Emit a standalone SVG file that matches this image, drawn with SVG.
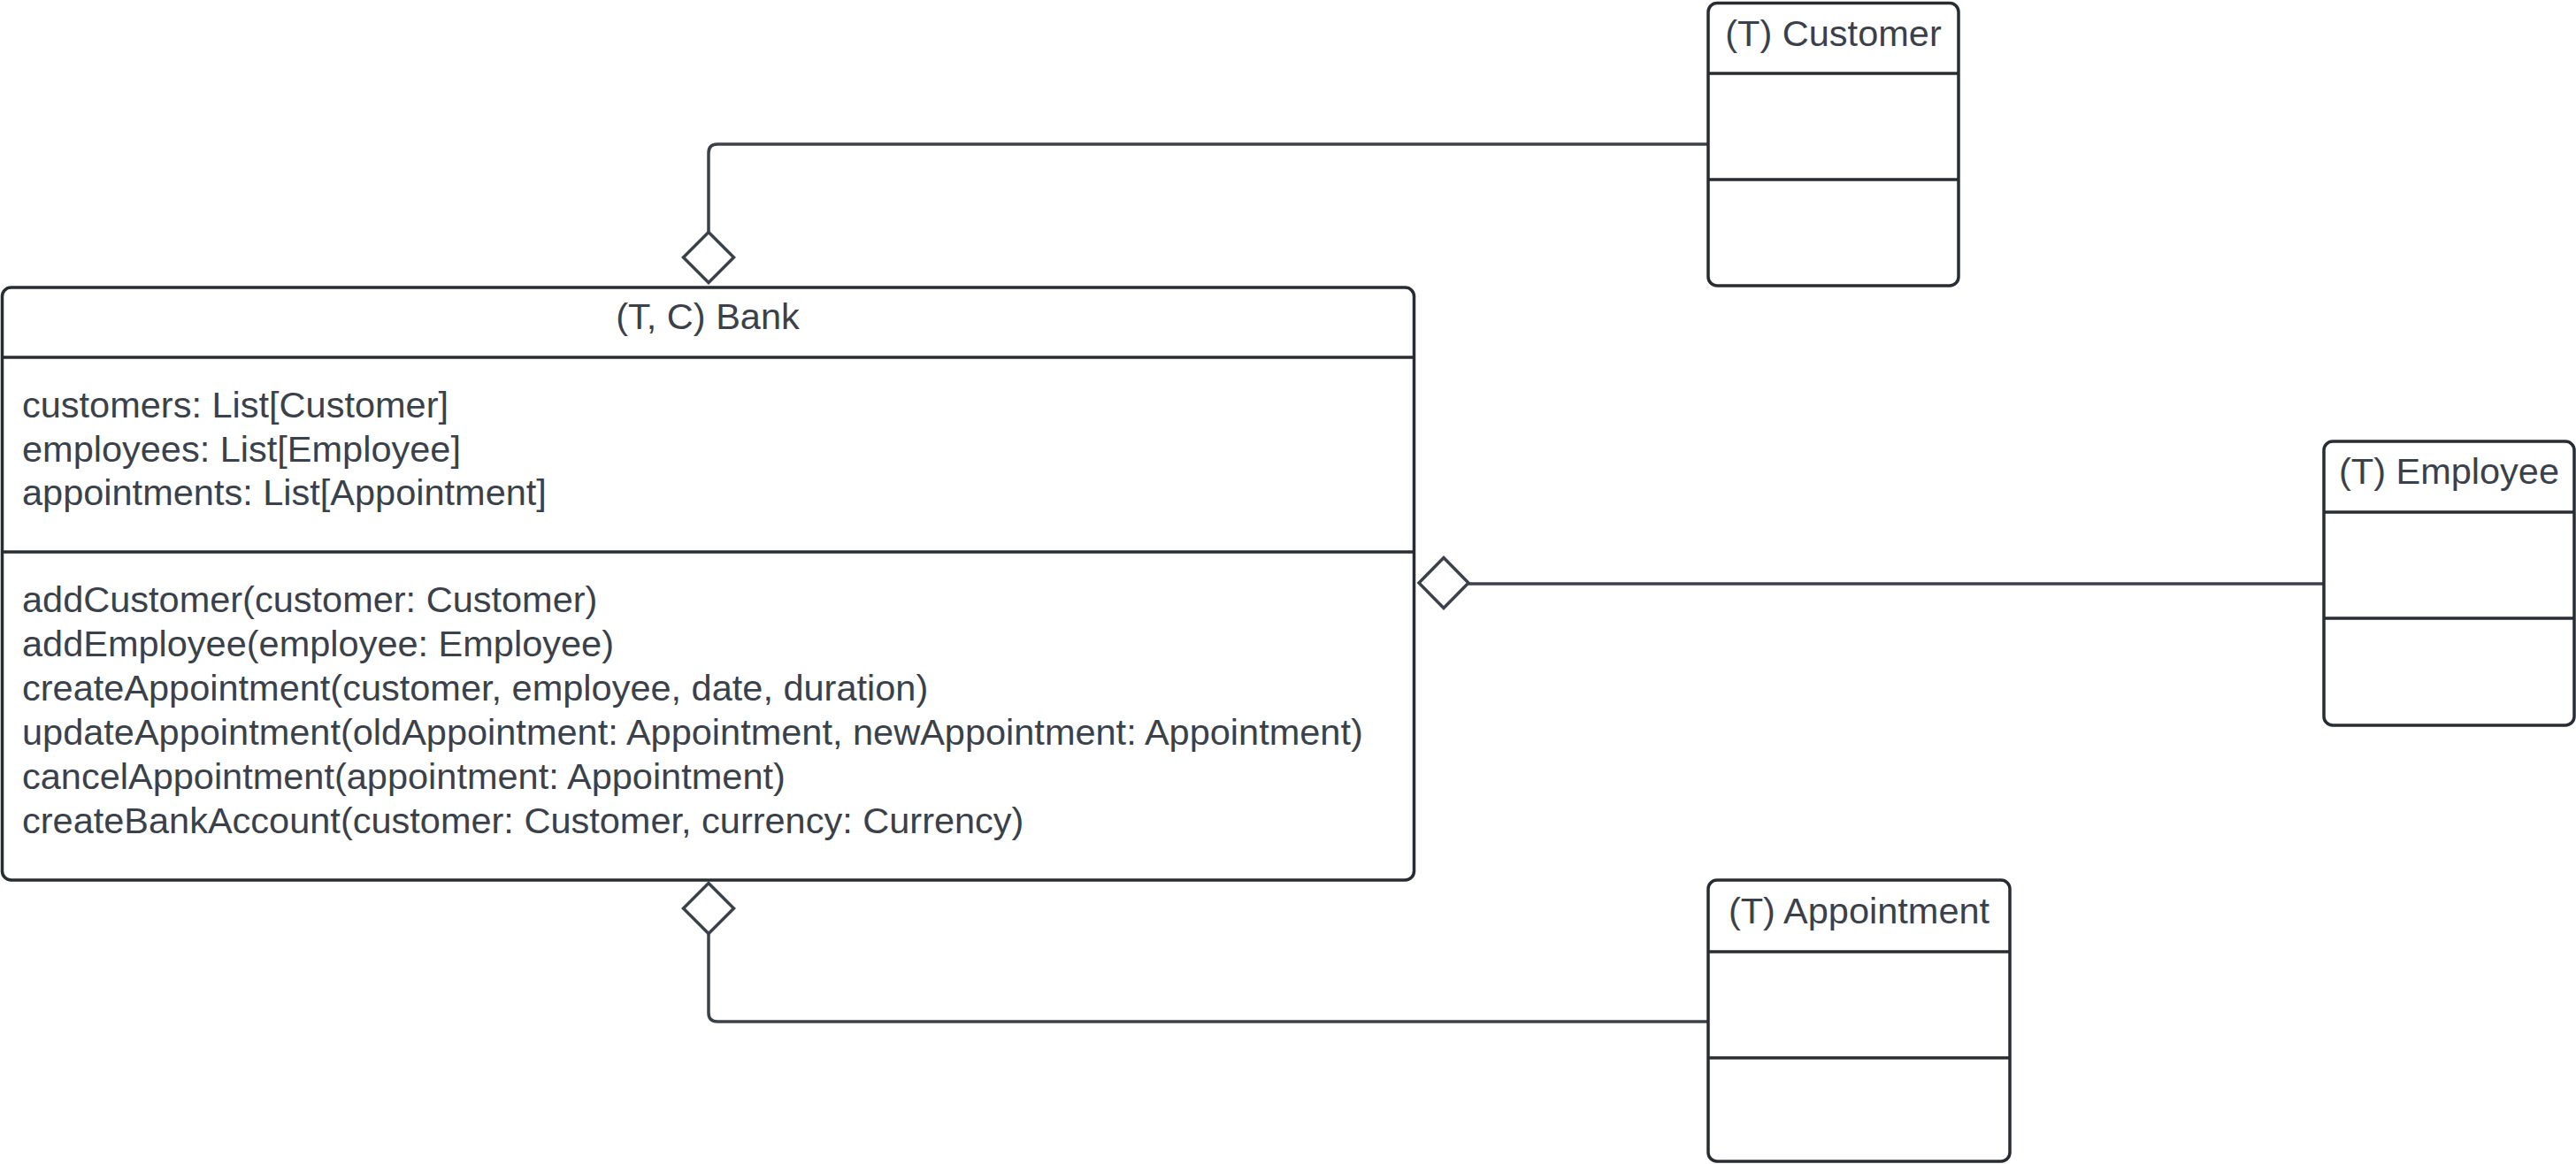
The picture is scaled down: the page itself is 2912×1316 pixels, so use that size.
<svg xmlns="http://www.w3.org/2000/svg" width="2912" height="1316" viewBox="0 0 2912 1316">
<style>
.box{fill:#ffffff;stroke:#282c33;stroke-width:3.5}
.div{stroke:#282c33;stroke-width:3.5;fill:none}
.conn{stroke:#3a414a;stroke-width:3.5;fill:none}
.dia{fill:#ffffff;stroke:#3a414a;stroke-width:3.5}
text{font-family:"Liberation Sans",Arial,sans-serif;font-size:41.5px;fill:#3a414a}
.c{text-anchor:middle}
</style>
<rect width="2912" height="1316" fill="#ffffff"/>
<g id="connectors">
<path class="conn" d="M1931 163 H811 Q801 163 801 173 V262.5"/>
<path class="dia" d="M801 262.5 L829.5 291 L801 319.5 L772.5 291 Z"/>
<path class="conn" d="M2627 660 H1660"/>
<path class="dia" d="M1604 659 L1632 630.5 L1660 659 L1632 687.5 Z"/>
<path class="conn" d="M1931 1155 H811 Q801 1155 801 1145 V1056"/>
<path class="dia" d="M801 998.5 L829.5 1027 L801 1055.5 L772.5 1027 Z"/>
</g>
<g id="bank">
<rect class="box" x="2.5" y="325" width="1596" height="670" rx="10"/>
<line class="div" x1="2.5" y1="404" x2="1598.5" y2="404"/>
<line class="div" x1="2.5" y1="624" x2="1598.5" y2="624"/>
<text class="c" x="800" y="372">(T, C) Bank</text>
<text x="25" y="472">customers: List[Customer]</text>
<text x="25" y="522">employees: List[Employee]</text>
<text x="25" y="571">appointments: List[Appointment]</text>
<text x="25" y="692">addCustomer(customer: Customer)</text>
<text x="25" y="742">addEmployee(employee: Employee)</text>
<text x="25" y="792">createAppointment(customer, employee, date, duration)</text>
<text x="25" y="842">updateAppointment(oldAppointment: Appointment, newAppointment: Appointment)</text>
<text x="25" y="892">cancelAppointment(appointment: Appointment)</text>
<text x="25" y="942">createBankAccount(customer: Customer, currency: Currency)</text>
</g>
<g id="customer">
<rect class="box" x="1931" y="3.5" width="283" height="319.5" rx="10"/>
<line class="div" x1="1931" y1="83" x2="2214" y2="83"/>
<line class="div" x1="1931" y1="203" x2="2214" y2="203"/>
<text class="c" x="2072.5" y="52">(T) Customer</text>
</g>
<g id="employee">
<rect class="box" x="2627" y="499" width="283" height="321" rx="10"/>
<line class="div" x1="2627" y1="579" x2="2910" y2="579"/>
<line class="div" x1="2627" y1="699" x2="2910" y2="699"/>
<text class="c" x="2768.5" y="547">(T) Employee</text>
</g>
<g id="appointment">
<rect class="box" x="1931" y="995" width="341" height="318" rx="10"/>
<line class="div" x1="1931" y1="1076" x2="2272" y2="1076"/>
<line class="div" x1="1931" y1="1196" x2="2272" y2="1196"/>
<text class="c" x="2101.5" y="1044">(T) Appointment</text>
</g>
</svg>
